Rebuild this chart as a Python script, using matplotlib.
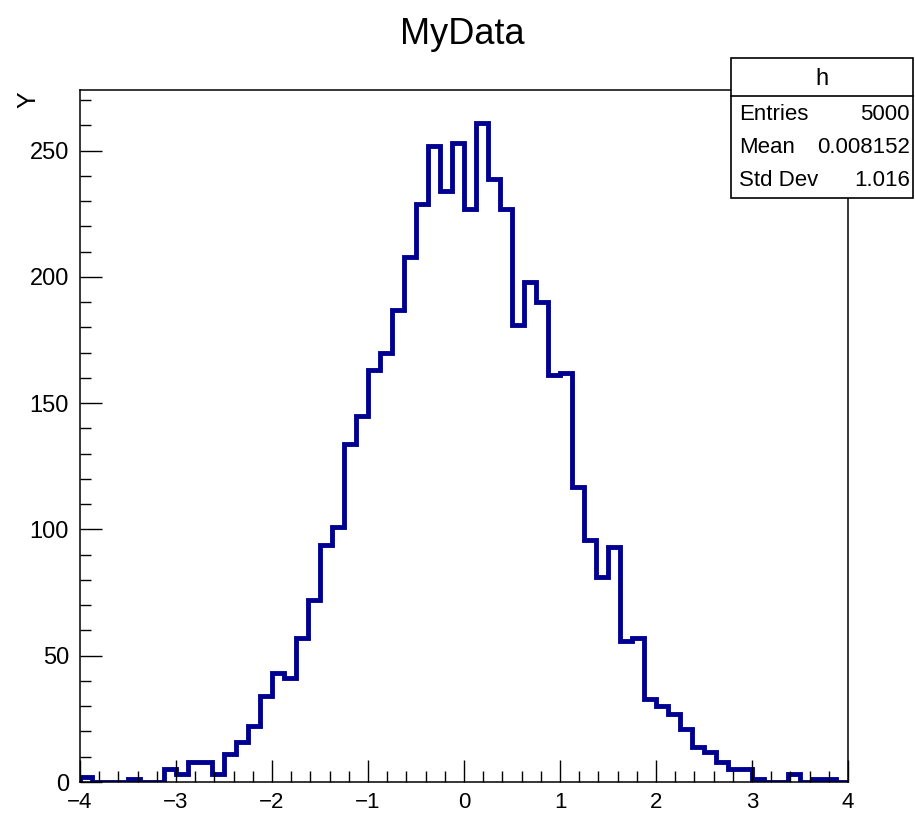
"""
Histograma estilo ROOT: MyData, 64 bins entre -4 y 4, con caja de estadisticas.
"""
import numpy as np
import matplotlib
matplotlib.use("Agg")
import matplotlib.pyplot as plt
from matplotlib.ticker import MultipleLocator

plt.rcParams["font.family"] = ["Liberation Sans Narrow", "Liberation Sans", "DejaVu Sans"]

# contenido de los bins
X_LO, X_HI, NBINS = -4.0, 4.0, 64
COUNTS = [2, 0, 0, 0, 1, 0, 0, 5, 3, 8, 8, 3, 11, 16, 22, 34,
          43, 41, 57, 72, 94, 101, 134, 145, 163, 170, 187, 208, 229, 252, 234, 253,
          227, 261, 239, 227, 181, 198, 190, 161, 162, 117, 96, 81, 93, 56, 57, 33,
          30, 27, 21, 14, 12, 8, 5, 5, 1, 0, 0, 3, 0, 1, 1, 0]
STAT_NAMES = ["Entries", "Mean", "Std Dev"]
STAT_VALUES = ["5000", "0.008152", "1.016"]
HNAME = "h"
TITLE = "MyData"
YLABEL = "Y"

W, H = 915, 813
LINE = "#000090"

fig = plt.figure(figsize=(W / 100, H / 100), dpi=100)
ax = fig.add_axes([80 / W, 1 - 782 / H, 768 / W, (782 - 90) / H])

edges = np.linspace(X_LO, X_HI, NBINS + 1)
ax.stairs(COUNTS, edges, color=LINE, lw=3.5, baseline=0)
ax.set_xlim(X_LO, X_HI)
ax.set_ylim(0, 1.05 * max(COUNTS))

ax.xaxis.set_major_locator(MultipleLocator(1))
ax.xaxis.set_minor_locator(MultipleLocator(0.2))
ax.yaxis.set_major_locator(MultipleLocator(50))
ax.yaxis.set_minor_locator(MultipleLocator(10))
ax.tick_params(which="both", direction="in", top=False, right=False,
               width=1.0, color="black")
ax.tick_params(which="major", length=16)
ax.tick_params(which="minor", length=8)
ax.tick_params(axis="x", pad=7, labelsize=16)
ax.tick_params(axis="y", pad=8, labelsize=17)
for s in ax.spines.values():
    s.set_linewidth(1.1)

fig.text(462 / W, 1 - 35 / H, TITLE, ha="center", va="center", fontsize=26)
fig.text(28 / W, 1 - 100 / H, YLABEL, ha="center", va="center", rotation=90,
         fontsize=18)

# caja de estadisticas
bx0, bx1, by0, by1 = 731, 913, 58, 198
box = plt.Rectangle((bx0 / W, 1 - by1 / H), (bx1 - bx0) / W, (by1 - by0) / H,
                    transform=fig.transFigure, facecolor="white",
                    edgecolor="black", lw=1.2, zorder=5)
fig.patches.append(box)
fig.add_artist(plt.Line2D([bx0 / W, bx1 / W], [1 - 96 / H, 1 - 96 / H],
                          color="black", lw=1.2, zorder=6))
fig.text((bx0 + bx1) / 2 / W, 1 - 79 / H, HNAME, ha="center", va="center",
         fontsize=17, zorder=7)
for i, (n, v) in enumerate(zip(STAT_NAMES, STAT_VALUES)):
    yy = 1 - (115 + 32.5 * i) / H
    fig.text((bx0 + 8) / W, yy, n, ha="left", va="center", fontsize=16, zorder=7)
    fig.text((bx1 - 3) / W, yy, v, ha="right", va="center", fontsize=16, zorder=7)

fig.savefig("out.png", dpi=100)
